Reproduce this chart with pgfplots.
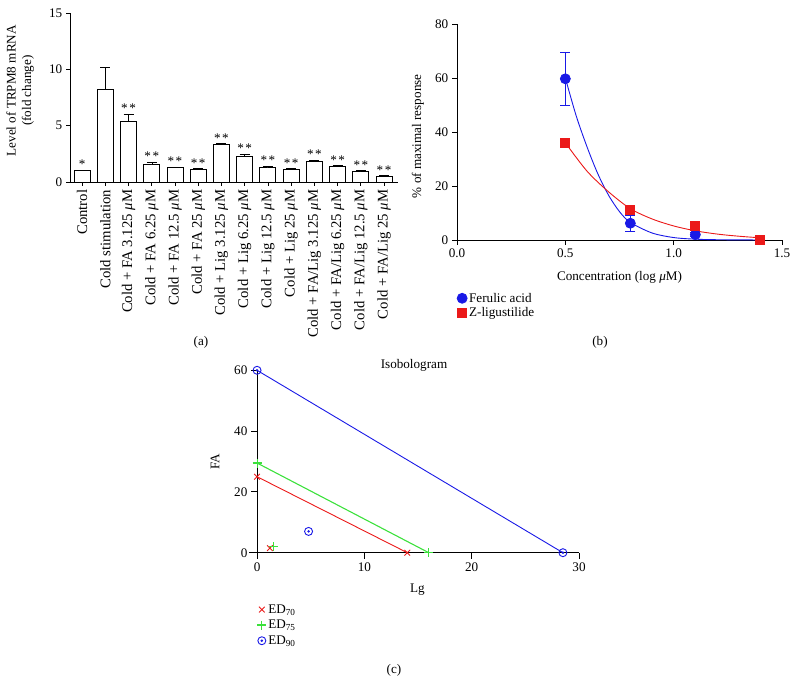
\documentclass[border=0pt]{standalone}
\usepackage{fontspec}
\setmainfont{Liberation Serif}
\usepackage{pgfplots}
\pgfplotsset{compat=1.18}
\definecolor{myblue}{RGB}{25,25,230}
\definecolor{myred}{RGB}{235,25,25}
\definecolor{mygreen}{RGB}{60,225,60}
\pgfdeclareplotmark{odot}{%
  \pgfpathcircle{\pgfpointorigin}{\pgfplotmarksize}\pgfusepathqstroke
  \pgfpathcircle{\pgfpointorigin}{0.35\pgfplotmarksize}\pgfusepathqfill}
\pgfplotsset{/pgf/number format/assume math mode=true,
  every axis/.append style={line width=0.8bp, tick style={black, line width=0.8bp}, major tick length=5bp}}
\begin{document}
\begin{tikzpicture}[x=1bp,y=1bp,font=\fontsize{13.2}{15.5}\selectfont]
\useasboundingbox (0,0) rectangle (797,695);
% ---------------- (a)
\begin{axis}[at={(70bp,513bp)}, anchor=south west, scale only axis,
  width=328bp, height=169bp,
  xmin=-0.52, xmax=13.6, ymin=0, ymax=15,
  axis x line*=bottom, axis y line*=left, axis line style={-},
  ytick={0,5,10,15}, xtick={0,...,13}, tick align=outside, major tick length=4bp,
  xticklabels={Control, Cold stimulation,
    {Cold + FA 3.125 {\itshape μ}M}, {Cold + FA 6.25 {\itshape μ}M},
    {Cold + FA 12.5 {\itshape μ}M}, {Cold + FA 25 {\itshape μ}M},
    {Cold + Lig 3.125 {\itshape μ}M}, {Cold + Lig 6.25 {\itshape μ}M},
    {Cold + Lig 12.5 {\itshape μ}M}, {Cold + Lig 25 {\itshape μ}M},
    {Cold + FA/Lig 3.125 {\itshape μ}M}, {Cold + FA/Lig 6.25 {\itshape μ}M},
    {Cold + FA/Lig 12.5 {\itshape μ}M}, {Cold + FA/Lig 25 {\itshape μ}M}},
  xticklabel style={rotate=90, anchor=east, font=\fontsize{14.8}{16}\selectfont},
  ylabel={Level of TRPM8 mRNA\\(fold change)},
  ylabel style={align=center, at={(rel axis cs:-0.152,0.54)}, anchor=center, rotate=0},
  clip=false]
\addplot[ybar, bar width=16bp, fill=white, draw=black, line width=0.9bp,
  error bars/.cd, y dir=plus, y explicit,
  error mark options={black, rotate=90, mark size=5bp, line width=0.9bp}]
  coordinates {(0,1.0) +- (0,0.05) (1,8.25) +- (0,1.95) (2,5.35) +- (0,0.65)
  (3,1.55) +- (0,0.2) (4,1.25) +- (0,0.07) (5,1.1) +- (0,0.1)
  (6,3.3) +- (0,0.12) (7,2.3) +- (0,0.18) (8,1.25) +- (0,0.15)
  (9,1.1) +- (0,0.1) (10,1.85) +- (0,0.07) (11,1.4) +- (0,0.06)
  (12,0.95) +- (0,0.03) (13,0.5) +- (0,0.04)};
\addplot[only marks, mark=none, nodes near coords, point meta=explicit symbolic,
  nodes near coords style={anchor=south, inner sep=1bp, font=\fontsize{13.2}{13.2}\selectfont}]
  coordinates {(0,1.05) [*] (2,6.0) [*\kern1.5bp*] (3,1.75) [*\kern1.5bp*] (4,1.32) [*\kern1.5bp*] (5,1.2) [*\kern1.5bp*]
  (6,3.42) [*\kern1.5bp*] (7,2.48) [*\kern1.5bp*] (8,1.4) [*\kern1.5bp*] (9,1.2) [*\kern1.5bp*] (10,1.92) [*\kern1.5bp*]
  (11,1.46) [*\kern1.5bp*] (12,0.98) [*\kern1.5bp*] (13,0.54) [*\kern1.5bp*]};
\end{axis}
% ---------------- (b)
\begin{axis}[at={(457bp,455bp)}, anchor=south west, scale only axis,
  width=325bp, height=216bp,
  xmin=0, xmax=1.5, ymin=0, ymax=80,
  axis x line*=bottom, axis y line*=left, axis line style={-},
  xtick={0,0.5,1,1.5}, ytick={0,20,40,60,80}, tick align=outside,
  xticklabel style={/pgf/number format/.cd, fixed, fixed zerofill, precision=1},
  xlabel={Concentration (log {\itshape μ}M)},
  xlabel style={at={(rel axis cs:0.5,-0.171)}, anchor=center},
  ylabel={\% of maximal response},
  ylabel style={at={(rel axis cs:-0.12,0.48)}, anchor=center},
  legend style={draw=none, fill=none, at={(-0.01,-0.225)}, anchor=north west,
    font=\fontsize{13.2}{15.5}\selectfont, row sep=0bp}, legend cell align=left,
  clip=false]
\addplot[myblue, line width=0.9bp, smooth, forget plot] coordinates {
  (0.5,60) (0.55,46) (0.6,34.5) (0.65,24.5) (0.7,16.5) (0.75,10.5) (0.8,6.5)
  (0.9,2.6) (1.0,0.9) (1.1,0.3) (1.2,0.1) (1.4,0)};
\addplot[myred, line width=0.9bp, smooth, forget plot] coordinates {
  (0.5,36) (0.6,25.5) (0.7,17.8) (0.8,11.6) (0.9,7.8) (1.0,5.2) (1.1,3.4)
  (1.2,2.2) (1.3,1.4) (1.4,0.8)};
\addplot[myblue, only marks, mark=*, mark size=5bp,
  error bars/.cd, y dir=both, y explicit,
  error mark options={myblue, rotate=90, mark size=5bp, line width=0.9bp},
  error bar style={line width=0.9bp}]
  coordinates {(0.5,59.7) +- (0,9.7) (0.8,6.2) +- (0,3.0) (1.1,2.0) +- (0,0.8)};
\addlegendentry{Ferulic acid}
\addplot[myred, only marks, mark=square*, mark size=4.5bp]
  coordinates {(0.5,36) (0.8,11.2) (1.1,5.2) (1.4,0.2)};
\addlegendentry{Z-ligustilide}
\end{axis}
% ---------------- (c)
\begin{axis}[at={(249bp,142.3bp)}, anchor=south west, scale only axis,
  width=330bp, height=182.4bp,
  xmin=-0.75, xmax=30, ymin=0, ymax=60,
  axis lines=middle, axis line style={-},
  hide obscured x ticks=false, hide obscured y ticks=false,
  xtick={0,10,20,30}, ytick={0,20,40,60}, tick align=outside, major tick length=6bp,
  xlabel={Lg}, ylabel={FA},
  xlabel style={at={(rel axis cs:0.51,-0.203)}, anchor=center},
  ylabel style={at={(rel axis cs:-0.103,0.5)}, anchor=center, rotate=90},
  title={Isobologram}, title style={at={(0.5,1)}, anchor=base, yshift=-4bp},
  legend style={draw=none, fill=none, at={(0.015,-0.26)}, anchor=north west,
    font=\fontsize{13.2}{15.5}\selectfont, row sep=1.5bp}, legend cell align=left,
  clip=false]
\addplot[myblue, line width=0.9bp, mark=odot, mark size=4bp, forget plot,
  mark options={line width=0.9bp}] coordinates {(0,60) (28.5,0)};
\addplot[mygreen, line width=1.1bp, mark=+, mark size=4.5bp, forget plot] coordinates {(0,29.5) (16,0)};
\addplot[myred, line width=0.9bp, mark=x, mark size=4bp, forget plot] coordinates {(0,25) (14,0)};
\addplot[myred, only marks, mark=x, mark size=4bp, line width=0.9bp] coordinates {(1.2,1.5)};
\addlegendentry{ED\textsubscript{70}}
\addplot[mygreen, only marks, mark=+, mark size=4.5bp, line width=1.3bp] coordinates {(1.5,2)};
\addlegendentry{ED\textsubscript{75}}
\addplot[myblue, only marks, mark=odot, mark size=4bp, line width=0.9bp] coordinates {(4.8,7)};
\addlegendentry{ED\textsubscript{90}}
\end{axis}
\node at (201,353) {(a)};
\node at (600,353) {(b)};
\node at (394,25) {(c)};
\end{tikzpicture}
\end{document}
